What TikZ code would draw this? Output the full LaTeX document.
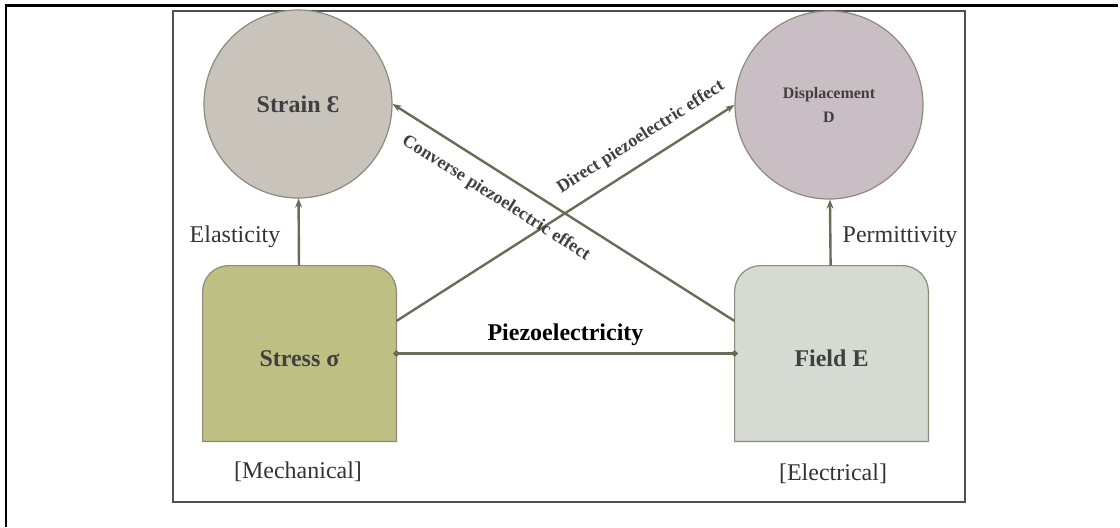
\documentclass[tikz,border=0pt]{standalone}
\usepackage{fontspec}
\setmainfont{Liberation Serif}
\usetikzlibrary{arrows.meta}
\definecolor{pzStrainFill}{HTML}{C8C4BC}
\definecolor{pzDispFill}{HTML}{C9BEC3}
\definecolor{pzStressFill}{HTML}{BEBF82}
\definecolor{pzFieldFill}{HTML}{D5DAD3}
\definecolor{pzBorder}{HTML}{8C8B78}
\definecolor{pzArrow}{HTML}{6B6B57}
\definecolor{pzText}{HTML}{404040}
\definecolor{pzLabel}{HTML}{333333}
\definecolor{pzFrame}{HTML}{505050}
\pgfdeclarelayer{bg}
\pgfsetlayers{bg,main}

\begin{document}
\begin{tikzpicture}[
  x=0.5pt, y=-0.5pt,
  quantity/.style={
    circle,
    draw=pzBorder,
    line width=0.6pt,
    minimum size=94pt,
    inner sep=0pt,
    text=pzText,
    align=center
  },
  domainbox/.style={
    rectangle,
    minimum width=96.5pt,
    minimum height=87.5pt,
    inner sep=0pt,
    text=pzText,
    font=\fontsize{12}{14}\selectfont\bfseries,
    text height=13pt,
    text depth=0pt
  },
  tab/.style={draw=pzBorder, line width=0.6pt},
  relLabel/.style={text=pzLabel, font=\fontsize{12}{14}\selectfont},
  effLabel/.style={text=pzText, font=\fontsize{9}{11}\selectfont\bfseries, sloped},
  arrEffect/.style={-{Stealth[length=4.5pt, width=3.5pt]}, pzArrow, line width=1.2pt},
  arrLink/.style={{Circle[length=3pt]}-{Circle[length=3pt]}, pzArrow, line width=1.2pt,
    shorten <=-1.5pt, shorten >=-1.5pt}
]
  \useasboundingbox (0,0) rectangle (1120,527);

  % page rules and frame
  \draw[black, line width=1.2pt] (5,5.5) -- (1118,5.5);
  \draw[black, line width=1.2pt] (6,5) -- (6,527);
  \draw[pzFrame, line width=0.8pt] (173,11) rectangle (965,502);

  \node[quantity, fill=pzStrainFill, font=\fontsize{12}{14}\selectfont\bfseries] (strain) at (298,104) {Strain Ɛ};
  \node[quantity, fill=pzDispFill, font=\fontsize{8}{12}\selectfont\bfseries] (disp) at (829,105) {Displacement\\D};
  \node[domainbox] (stress) at (299.5,353.5) {Stress σ};
  \node[domainbox] (field) at (831.5,353.5) {Field E};

  \begin{pgfonlayer}{bg}
    \foreach \n/\c in {stress/pzStressFill, field/pzFieldFill}
      \draw[tab, fill=\c] (\n.south west) [rounded corners=13pt] -- (\n.north west)
        -- (\n.north east) [sharp corners] -- (\n.south east) -- cycle;
  \end{pgfonlayer}

  \node[relLabel] (elast) at (235,237) {Elasticity};
  \node[relLabel] (perm) at (900,237) {Permittivity};
  \node[relLabel] (mech) at (298,472) {[Mechanical]};
  \node[relLabel] (elec) at (833,474) {[Electrical]};

  \draw[arrEffect] (stress) -- (strain);
  \draw[arrEffect] (field) -- (disp);
  \draw[arrEffect] ([yshift=16.25pt]stress.east) -- (disp.west)
    node[effLabel, pos=0.76, above=3.5pt] (direct) {Direct piezoelectric effect};
  \draw[arrEffect] ([yshift=16.25pt]field.west) -- (strain.east)
    node[effLabel, pos=0.66, below=4pt] (converse) {Converse piezoelectric effect};
  \draw[arrLink] (stress.east) -- (field.west)
    node[midway, above, text=black, font=\fontsize{12}{14}\selectfont\bfseries] (piezo) {Piezoelectricity};

\end{tikzpicture}
\end{document}
